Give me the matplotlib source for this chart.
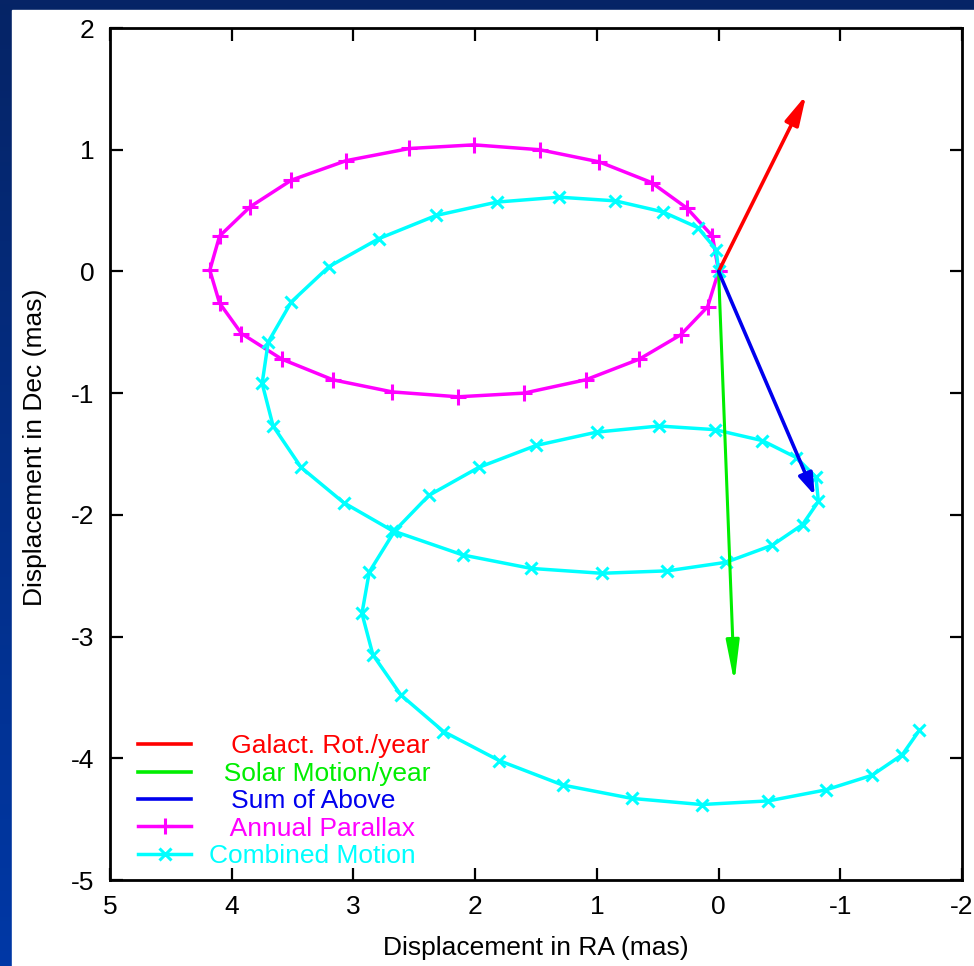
import matplotlib.pyplot as plt
import numpy as np
from matplotlib.lines import Line2D
from matplotlib.patches import Rectangle
from matplotlib.colors import LinearSegmentedColormap

plt.rcParams['font.family'] = ['Liberation Sans', 'DejaVu Sans']
plt.rcParams['axes.unicode_minus'] = False

# annual parallax ellipse (mas), half-month steps
parallax_ra = [0.00, 0.05, 0.26, 0.55, 0.98, 1.47, 2.01, 2.54, 3.06, 3.51, 3.85, 4.10, 4.18,
               4.10, 3.92, 3.59, 3.17, 2.68, 2.14, 1.60, 1.09, 0.65, 0.31, 0.09, 0.00]
parallax_dec = [0.00, 0.29, 0.52, 0.73, 0.90, 1.00, 1.04, 1.01, 0.91, 0.75, 0.53, 0.29, 0.01,
                -0.26, -0.51, -0.72, -0.89, -0.99, -1.03, -1.00, -0.89, -0.72, -0.52, -0.29, 0.00]

# combined motion over two years
combined_ra = [0.00, 0.02, 0.17, 0.46, 0.85, 1.31, 1.82, 2.32, 2.79, 3.20, 3.51, 3.70, 3.75,
               3.66, 3.43, 3.08, 2.68, 2.10, 1.54, 0.96, 0.42, -0.06, -0.44, -0.69, -0.82,
               -0.80, -0.64, -0.36, 0.03, 0.49, 1.00, 1.50, 1.97, 2.38, 2.66, 2.87, 2.93,
               2.84, 2.61, 2.26, 1.80, 1.28, 0.71, 0.14, -0.41, -0.88, -1.26, -1.51, -1.65]
combined_dec = [0.00, 0.18, 0.36, 0.49, 0.58, 0.61, 0.57, 0.46, 0.27, 0.04, -0.25, -0.58, -0.92,
                -1.27, -1.61, -1.90, -2.13, -2.33, -2.44, -2.48, -2.46, -2.39, -2.25, -2.08, -1.89,
                -1.69, -1.53, -1.39, -1.30, -1.27, -1.32, -1.43, -1.61, -1.84, -2.13, -2.47, -2.81,
                -3.15, -3.48, -3.78, -4.02, -4.22, -4.33, -4.38, -4.35, -4.26, -4.14, -3.97, -3.77]

# yearly vectors (ra, dec)
galact_rot = (-0.72, 1.45)
solar_motion = (-0.13, -3.38)
sum_above = (-0.79, -1.84)

labels = ["   Galact. Rot./year", "  Solar Motion/year", "   Sum of Above",
          "   Annual Parallax", "Combined Motion"]
colors = ["#ff0000", "#00ee00", "#0000ee", "#ff00ff", "#00ffff"]

W, H = 974, 966
fig = plt.figure(figsize=(W / 100, H / 100), dpi=100)

# blue slide background with white panel
bg = fig.add_axes([0, 0, 1, 1], zorder=-5)
grad = np.linspace(0, 1, 256).reshape(-1, 1)
bg.imshow(grad, aspect="auto", extent=[0, 1, 0, 1], origin="upper",
          cmap=LinearSegmentedColormap.from_list("b", ["#062466", "#0038a6"]))
bg.add_patch(Rectangle((12 / W, 0), 1 - 12 / W, 1 - 10 / H, color="white", zorder=2))
bg.set_xlim(0, 1)
bg.set_ylim(0, 1)
bg.axis("off")

ax = fig.add_axes([110 / W, 86 / H, 852 / W, 852 / H])
ax.set_facecolor("white")

for (dx, dy), c, hl, hw, lw in [(galact_rot, colors[0], 0.9, 0.22, 2.6),
                                (solar_motion, colors[1], 1.25, 0.2, 2.2),
                                (sum_above, colors[2], 0.65, 0.22, 2.6)]:
    ax.annotate("", xy=(dx, dy), xytext=(0, 0),
                arrowprops=dict(arrowstyle=f"-|>,head_length={hl},head_width={hw}",
                                color=c, lw=lw, mutation_scale=20, shrinkA=0, shrinkB=0))

ax.plot(parallax_ra, parallax_dec, color=colors[3], lw=2.5, marker="+", ms=11, mew=2.2)
ax.plot(combined_ra, combined_dec, color=colors[4], lw=2.5, marker="x", ms=8, mew=2.2)

ax.set_xlim(5, -2)
ax.set_ylim(-5, 2)
ax.set_xticks(range(5, -3, -1))
ax.set_yticks(range(-5, 3))
ax.tick_params(direction="in", length=9, width=1.6, top=True, right=True,
               labelsize=19, pad=11)
for s in ax.spines.values():
    s.set_linewidth(2)

ax.set_xlabel("Displacement in RA (mas)", fontsize=19)
ax.set_ylabel("Displacement in Dec (mas)", fontsize=19)
ax.xaxis.set_label_coords(0.5, -0.066)
ax.yaxis.set_label_coords(-0.074, 0.508)

handles = [Line2D([], [], color=colors[0], lw=2.6),
           Line2D([], [], color=colors[1], lw=2.6),
           Line2D([], [], color=colors[2], lw=2.6),
           Line2D([], [], color=colors[3], lw=2.5, marker="+", ms=11, mew=2.2),
           Line2D([], [], color=colors[4], lw=2.5, marker="x", ms=8, mew=2.2)]
ax.legend(handles, labels, loc="lower left", bbox_to_anchor=(0.033, 0.014),
          frameon=False, fontsize=19, labelcolor=colors, handlelength=2.0,
          handletextpad=0.7, labelspacing=0.13, borderpad=0, borderaxespad=0)

fig.savefig("out.png", dpi=100)
